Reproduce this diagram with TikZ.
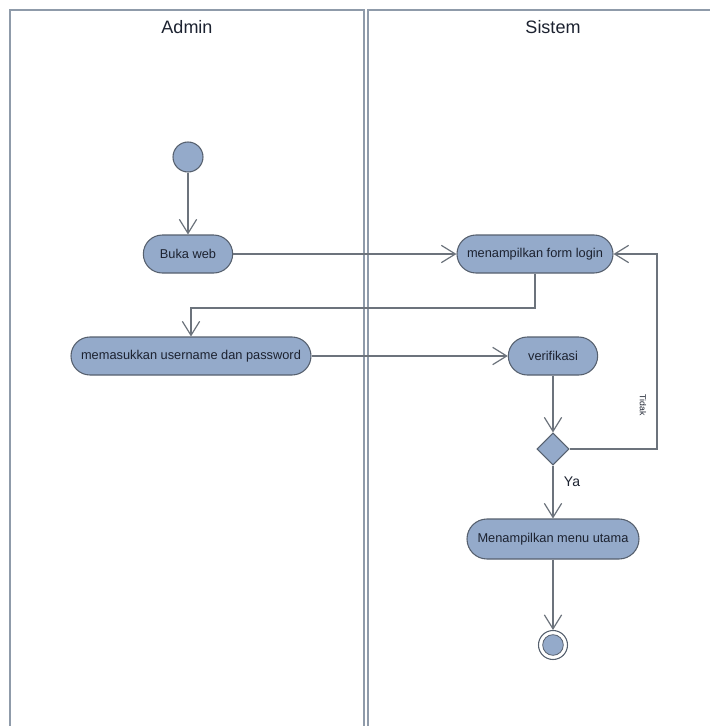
\documentclass[tikz,border=0pt]{standalone}
\usepackage{fontspec}
\setmainfont{Liberation Sans}
\usetikzlibrary{arrows.meta,shapes.geometric}
\definecolor{actfill}{HTML}{94AACA}
\definecolor{actline}{HTML}{56606E}
\definecolor{flow}{HTML}{6C737C}
\definecolor{lane}{HTML}{8F9BAA}
\definecolor{ink}{HTML}{1C2230}
\tikzset{
  act/.style={draw=actline, fill=actfill, line width=0.8pt, rounded corners=14.25pt,
    minimum height=28.5pt, inner sep=0pt, text=ink, font=\fontsize{9.6}{11}\selectfont},
  flowarrow/.style={draw=flow, line width=0.9pt, -{Straight Barb[length=10.5pt,width=13pt,line width=0.9pt]}},
  lanebox/.style={draw=lane, line width=1.6pt},
  lanehead/.style={text=ink, font=\fontsize{13.5}{16}\selectfont}
}
\begin{document}
\begin{tikzpicture}[x=0.75pt,y=-0.75pt]
\useasboundingbox (0,0) rectangle (710,726);
\fill[white] (0,0) rectangle (710,726);

% swimlanes
\draw[lanebox] (10,730) -- (10,10) -- (364,10) -- (364,730);
\draw[lanebox] (368,730) -- (368,10) -- (714,10);
\node[lanehead] (hAdmin) at (187,27) {Admin};
\node[lanehead] (hSistem) at (553,27) {Sistem};

% activity nodes
\node[circle, draw=actline, fill=actfill, line width=0.8pt, minimum size=22.5pt, inner sep=0pt] (start) at (188,157) {};
\node[act, minimum width=67pt] (buka) at (188,254) {Buka web};
\node[act, minimum width=117pt] (form) at (535,254) {menampilkan form login};
\node[act, minimum width=180pt] (masuk) at (191,356) {memasukkan username dan password};
\node[act, minimum width=67pt] (verif) at (553,356) {verifikasi};
\node[diamond, draw=actline, fill=actfill, line width=0.8pt, minimum width=24pt, minimum height=24pt, inner sep=0pt] (dec) at (553,449) {};
\node[act, minimum width=129pt, minimum height=30pt, rounded corners=15pt] (menu) at (553,539) {Menampilkan menu utama};
\node[circle, draw=actline, fill=white, line width=0.8pt, minimum size=21.75pt, inner sep=0pt] (stop) at (553,645) {};
\node[circle, draw=actline, fill=actfill, line width=0.6pt, minimum size=15.5pt, inner sep=0pt] (stopin) at (553,645) {};

% routing points
\coordinate (bend) at (0,308);
\coordinate (loopx) at (657,0);

% flows
\draw[flowarrow] (start) -- (buka);
\draw[flowarrow] (buka.east) -- (form.west);
\draw[flowarrow] (form.south) -- (form.south |- bend) -- (masuk.north |- bend) -- (masuk.north);
\draw[flowarrow] (masuk.east) -- (masuk.east -| verif.west);
\draw[flowarrow] (verif.south) -- (dec.north);
\draw[flowarrow] (dec.east) -- (dec.east -| loopx) -- (form.east -| loopx) -- (form.east);
\draw[flowarrow] (dec.south) -- (menu.north);
\draw[flowarrow] (menu.south) -- (stop.north);

% guard labels
\node[text=ink, font=\fontsize{6.5}{8}\selectfont, rotate=-90] (tidak) at (643,405) {Tidak};
\node[text=ink, font=\fontsize{10.5}{12}\selectfont] (ya) at (572,482) {Ya};
\end{tikzpicture}
\end{document}
